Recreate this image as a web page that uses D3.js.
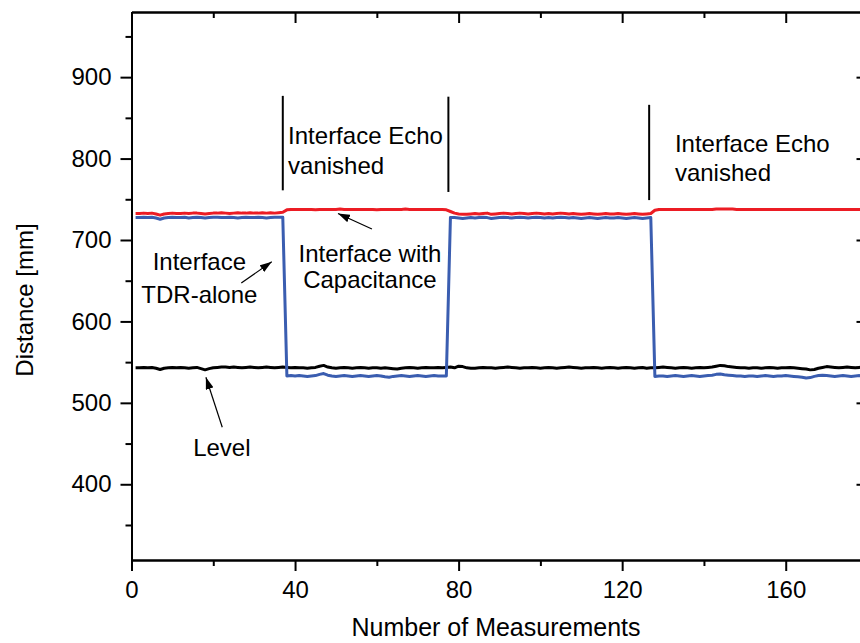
<!DOCTYPE html>
<html>
<head>
<meta charset="utf-8">
<script src="https://cdn.jsdelivr.net/npm/d3@7"></script>
<style>
  body { margin: 0; background: #fff; }
  text { font-family: "Liberation Sans", Arial, sans-serif; fill: #000; }
  .axis path, .axis line { stroke: #000; stroke-width: 2; }
  .axis text { font-size: 24px; }
</style>
</head>
<body>
<div id="chart"></div>
<script>
var level = [
  543,543,543.5,543,543.5,542.5,541,542.5,543,543.5,
  543,543.5,543,542.5,543,543.5,542,540.5,542,543,
  543.5,544,544,543.5,544,543.5,543,543.5,544,543.5,
  543,543.5,544,543.5,543,543.5,544,543.5,543,543.5,
  543,543,542.5,543,543.5,545,546,544,543,542.5,
  543,543.5,543,542.5,543,543.5,543,542.5,543,543,
  542.5,543,542.5,542,541.5,542.5,543,543.5,543,542.5,
  543,543.5,543,543,543.5,543,543.5,544,543,545,
  544.5,543,542.5,542.5,543,543.5,543,543,542.5,543,
  543.5,544,543.5,543,542.5,543,543,543.5,543,542.5,
  543,543.5,543,542.5,543,543.5,544,543.5,543,542.5,
  543,543,543.5,543,542.5,543,543.5,543,542.5,543,
  543.5,543,542.5,543,543.5,542.5,543,543,543.5,544,
  543.5,543,542.5,543,543.5,543,542.5,543,543.5,543,
  543.5,544,545,546,545.5,544.5,544,543.5,543,543,
  542.5,543,543,542.5,543,543.5,543,542.5,543,543,
  543.5,543,542.5,542,541.5,540.5,541,542.5,543.5,544.5,
  544,543.5,543,543.5,544,543.5,543,543.5,544
]

var tdrAlone = [
  727.5,727.5,728,727.5,728,727,725.5,727,727.5,728,
  727.5,727.5,728,727,727.5,728,727.5,727,727.5,728,
  728,727.5,727.5,728,727.5,727,727.5,728,727.5,727.5,
  728,727.5,727,727.5,728,728,728,
  533,533.5,533,
  533.5,533,532.5,533,533.5,535,536,534,533,532.5,
  533,533.5,533,532.5,533,533.5,533,532.5,533,533.5,
  533,532,531.5,532.5,533,533.5,533,532.5,533,533.5,
  533,532.5,533,533.5,533,533,533,
  727.5,727.5,727,
  726.5,727,727.5,727,727.5,728,727.5,726.5,727,727.5,
  728,727.5,727,727.5,728,727.5,727,727.5,728,727.5,
  727,727.5,727,727.5,728,727.5,727,727.5,727,726.5,
  727,727.5,727,726.5,727,727.5,727,727,727.5,727,
  726.5,727,727.5,727,726.5,727,727.5,
  532.5,533,533,
  532.5,533,533.5,533,532.5,533,533.5,533,532.5,533,
  533.5,534,535,535.5,534.5,534,533.5,533,533,532.5,
  533,533,532.5,533,533.5,533,532.5,533,533,533.5,
  533,532.5,532,531.5,530.5,531,532.5,533.5,534,533.5,
  533,532.5,533,533.5,533,532.5,533,533.5,533
]

var withCap = [
  732.5,732.5,733,732.5,733,732,730.5,732,732.5,733,
  732.5,732.5,733,732.5,733,733,732.5,732,732.5,733,
  733,733.5,733,732.5,733,733.5,733,733,733.5,733,
  733,733.5,733,733.5,733,733.5,734,
  737,737.5,737.5,
  737.5,737.5,737.5,737.5,737,737.5,737.5,737.5,737.5,737.5,
  738,737.5,737.5,737.5,737.5,737.5,737.5,737.5,737.5,737,
  737.5,737.5,737.5,737.5,737.5,737.5,738,737.5,737.5,737.5,
  737.5,737.5,737.5,737.5,737.5,737.5,737,
  735,733,732,
  731.5,731.5,732,732.5,732,732.5,733,731.5,732,732.5,
  733,732.5,732,732.5,733,732.5,732,732.5,733,732.5,
  732,732.5,732,732.5,733,732.5,732,732.5,732,731.5,
  732,732.5,732,731.5,732,732.5,732,732,732.5,732,
  731.5,732,732.5,732,731.5,732,732.5,
  736.5,737.5,737.5,
  737.5,737.5,737.5,737.5,737.5,737.5,737.5,737.5,737.5,737.5,
  737.5,737.5,738,738,738,738,738,737.5,737.5,737.5,
  737.5,737.5,737.5,737.5,737.5,737.5,737.5,737.5,737.5,737.5,
  737.5,737.5,737.5,737.5,737.5,737.5,737.5,737.5,737.5,737.5,
  737.5,737.5,737.5,737.5,737.5,737.5,737.5,737.5,737.5
]

var xTicks = [0, 40, 80, 120, 160]
var xMinor = [20, 60, 100, 140, 180]
var yTicks = [400, 500, 600, 700, 800, 900]
var yMinor = [350, 450, 550, 650, 750, 850, 950]

// annotations in data units
var markers = [
  {x: 37, y1: 877, y2: 761},
  {x: 77.5, y1: 876, y2: 759},
  {x: 126.6, y1: 866, y2: 749}
]
var labels = [
  {x: 38.3, y: 818, lines: ["Interface Echo", "vanished"], anchor: "start", gap: 30},
  {x: 132.9, y: 807.5, lines: ["Interface Echo", "vanished"], anchor: "start", gap: 29},
  {x: 58.3, y: 673, lines: ["Interface with", "Capacitance"], anchor: "middle", gap: 26},
  {x: 16.6, y: 663.2, lines: ["Interface", "TDR-alone"], anchor: "middle", gap: 33},
  {x: 22.1, y: 434.7, lines: ["Level"], anchor: "middle", gap: 0}
]
var arrows = [
  {x1: 58.8, y1: 713.5, x2: 50.5, y2: 732.5},
  {x1: 26.85, y1: 647.2, x2: 34.3, y2: 673.3},
  {x1: 22.2, y1: 470, x2: 18.2, y2: 531.4}
]

var svgWidth = 860
var svgHeight = 643
var margin = {top: 12, right: -7.5, bottom: 83, left: 131.5}
var width = svgWidth - margin.left - margin.right
var height = svgHeight - margin.top - margin.bottom

var svg = d3.select("#chart")
  .append("svg")
  .attr("width", svgWidth)
  .attr("height", svgHeight)

svg.append("defs").append("marker")
  .attr("id", "head")
  .attr("viewBox", "0 0 12 8")
  .attr("refX", 12)
  .attr("refY", 4)
  .attr("markerWidth", 12)
  .attr("markerHeight", 8)
  .attr("markerUnits", "userSpaceOnUse")
  .attr("orient", "auto")
  .append("path")
  .attr("d", "M0,0L12,4L0,8Z")
  .attr("fill", "#000")

svg.select("defs").append("clipPath")
  .attr("id", "clip")
  .append("rect")
  .attr("width", width)
  .attr("height", height)

var chartGroup = svg.append("g")
  .attr("transform", `translate(${margin.left}, ${margin.top})`)

var xScale = d3.scaleLinear().domain([0, 180]).range([0, width])
var yScale = d3.scaleLinear().domain([307, 980]).range([height, 0])

// axes: labelled bottom/left, plain top/right with inward ticks
chartGroup.append("g").attr("class", "axis")
  .attr("transform", `translate(0, ${height})`)
  .call(d3.axisBottom(xScale).tickValues(xTicks).tickSize(11).tickSizeOuter(0).tickPadding(10))
chartGroup.append("g").attr("class", "axis")
  .attr("transform", `translate(0, ${height})`)
  .call(d3.axisBottom(xScale).tickValues(xMinor).tickSize(6).tickSizeOuter(0).tickFormat(""))

chartGroup.append("g").attr("class", "axis")
  .call(d3.axisLeft(yScale).tickValues(yTicks).tickSize(11).tickSizeOuter(0).tickPadding(9))
chartGroup.append("g").attr("class", "axis")
  .call(d3.axisLeft(yScale).tickValues(yMinor).tickSize(6).tickSizeOuter(0).tickFormat(""))

chartGroup.append("g").attr("class", "axis")
  .call(d3.axisTop(xScale).tickValues(xTicks).tickSize(-11).tickSizeOuter(0).tickFormat(""))
chartGroup.append("g").attr("class", "axis")
  .call(d3.axisTop(xScale).tickValues(xMinor).tickSize(-6).tickSizeOuter(0).tickFormat(""))

chartGroup.append("g").attr("class", "axis")
  .attr("transform", `translate(${width}, 0)`)
  .call(d3.axisRight(yScale).tickValues(yTicks).tickSize(-11).tickSizeOuter(0).tickFormat(""))
chartGroup.append("g").attr("class", "axis")
  .attr("transform", `translate(${width}, 0)`)
  .call(d3.axisRight(yScale).tickValues(yMinor).tickSize(-6).tickSizeOuter(0).tickFormat(""))

// lines
var line = d3.line()
  .x((d, i) => xScale(i + 1))
  .y(d => yScale(d))

var series = [
  {values: level, color: "#000000"},
  {values: tdrAlone, color: "#3a5db0"},
  {values: withCap, color: "#ec1c24"}
]

chartGroup.append("g")
  .attr("clip-path", "url(#clip)")
  .selectAll("path")
  .data(series)
  .enter()
  .append("path")
  .attr("d", d => line(d.values))
  .attr("fill", "none")
  .attr("stroke", d => d.color)
  .attr("stroke-width", 3)
  .attr("stroke-linejoin", "round")

// annotations
chartGroup.append("g")
  .selectAll("line")
  .data(markers)
  .enter()
  .append("line")
  .attr("x1", d => xScale(d.x))
  .attr("x2", d => xScale(d.x))
  .attr("y1", d => yScale(d.y1))
  .attr("y2", d => yScale(d.y2))
  .attr("stroke", "#000")
  .attr("stroke-width", 2)

chartGroup.append("g")
  .selectAll("line")
  .data(arrows)
  .enter()
  .append("line")
  .attr("x1", d => xScale(d.x1))
  .attr("y1", d => yScale(d.y1))
  .attr("x2", d => xScale(d.x2))
  .attr("y2", d => yScale(d.y2))
  .attr("stroke", "#000")
  .attr("stroke-width", 1.2)
  .attr("marker-end", "url(#head)")

var labelText = chartGroup.append("g")
  .selectAll("text")
  .data(labels)
  .enter()
  .append("text")
  .attr("x", d => xScale(d.x))
  .attr("y", d => yScale(d.y))
  .attr("text-anchor", d => d.anchor)
  .style("font-size", "24px")

labelText.selectAll("tspan")
  .data(d => d.lines.map((t, i) => ({t: t, i: i, d: d})))
  .enter()
  .append("tspan")
  .attr("x", d => xScale(d.d.x))
  .attr("dy", d => d.i === 0 ? 0 : d.d.gap)
  .text(d => d.t)

// axis titles
chartGroup.append("text")
  .attr("transform", "rotate(-90)")
  .attr("x", -(300 - margin.top))
  .attr("y", 33 - margin.left)
  .attr("text-anchor", "middle")
  .style("font-size", "24px")
  .text("Distance [mm]")

chartGroup.append("text")
  .attr("x", 496 - margin.left)
  .attr("y", 636 - margin.top)
  .attr("text-anchor", "middle")
  .style("font-size", "25px")
  .text("Number of Measurements")
</script>
</body>
</html>
